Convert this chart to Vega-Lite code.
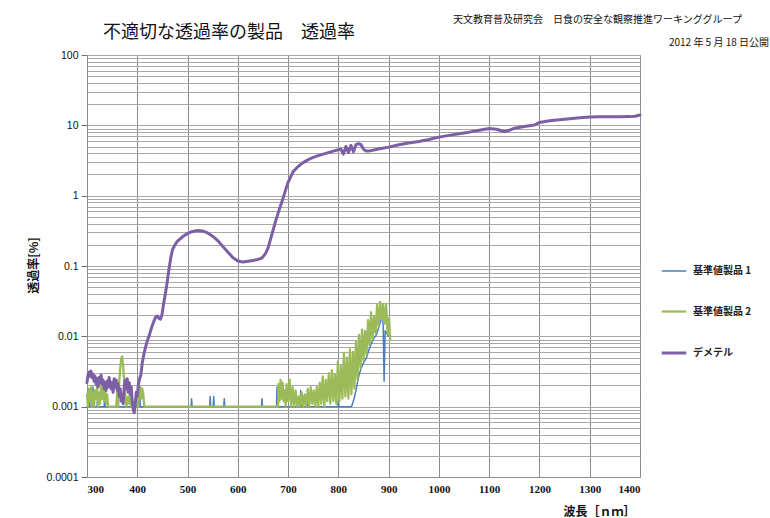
{
  "$schema": "https://vega.github.io/schema/vega-lite/v6.json",
  "width": 553,
  "height": 422,
  "autosize": {"type": "none"},
  "padding": {"left": 87, "top": 55, "right": 130, "bottom": 41},
  "background": "white",
  "title": {
    "text": "不適切な透過率の製品　透過率",
    "anchor": "start",
    "frame": "group",
    "dx": 16,
    "dy": 41,
    "offset": 14,
    "font": "Noto Sans CJK JP",
    "fontSize": 18,
    "fontWeight": "normal",
    "color": "#111"
  },
  "config": {
    "view": {"stroke": "#8c8c8c", "strokeWidth": 1},
    "axis": {"domainColor": "#8c8c8c", "tickColor": "#6f6f6f"}
  },
  "layer": [
    {
      "data": {
        "values": [
          {"s":"基準値製品 1","x":300,"y":0.001},{"s":"基準値製品 1","x":304,"y":0.001},{"s":"基準値製品 1","x":305,"y":0.0014},{"s":"基準値製品 1","x":306,"y":0.001},{"s":"基準値製品 1","x":311,"y":0.001},{"s":"基準値製品 1","x":312,"y":0.0019},{"s":"基準値製品 1","x":313,"y":0.001},{"s":"基準値製品 1","x":320,"y":0.001},{"s":"基準値製品 1","x":321,"y":0.0013},{"s":"基準値製品 1","x":322,"y":0.001},{"s":"基準値製品 1","x":334,"y":0.001},{"s":"基準値製品 1","x":335,"y":0.0013},{"s":"基準値製品 1","x":336,"y":0.001},{"s":"基準値製品 1","x":404,"y":0.001},{"s":"基準値製品 1","x":405,"y":0.0015},{"s":"基準値製品 1","x":406,"y":0.001},{"s":"基準値製品 1","x":507,"y":0.001},{"s":"基準値製品 1","x":508,"y":0.0013},{"s":"基準値製品 1","x":509,"y":0.001},{"s":"基準値製品 1","x":544,"y":0.001},{"s":"基準値製品 1","x":545,"y":0.0014},{"s":"基準値製品 1","x":546,"y":0.001},{"s":"基準値製品 1","x":551,"y":0.001},{"s":"基準値製品 1","x":552,"y":0.0014},{"s":"基準値製品 1","x":553,"y":0.001},{"s":"基準値製品 1","x":572,"y":0.001},{"s":"基準値製品 1","x":573,"y":0.0013},{"s":"基準値製品 1","x":574,"y":0.001},{"s":"基準値製品 1","x":647,"y":0.001},{"s":"基準値製品 1","x":648,"y":0.0013},{"s":"基準値製品 1","x":649,"y":0.001},{"s":"基準値製品 1","x":677,"y":0.001},{"s":"基準値製品 1","x":678,"y":0.0019},{"s":"基準値製品 1","x":679,"y":0.001},{"s":"基準値製品 1","x":724,"y":0.001},{"s":"基準値製品 1","x":725,"y":0.0017},{"s":"基準値製品 1","x":726,"y":0.001},{"s":"基準値製品 1","x":739,"y":0.001},{"s":"基準値製品 1","x":740,"y":0.0015},{"s":"基準値製品 1","x":741,"y":0.001},{"s":"基準値製品 1","x":799,"y":0.001},{"s":"基準値製品 1","x":800,"y":0.0013},{"s":"基準値製品 1","x":801,"y":0.001},{"s":"基準値製品 1","x":826,"y":0.001},{"s":"基準値製品 1","x":830,"y":0.0012},{"s":"基準値製品 1","x":835,"y":0.0017},{"s":"基準値製品 1","x":840,"y":0.0026},{"s":"基準値製品 1","x":845,"y":0.0035},{"s":"基準値製品 1","x":850,"y":0.0042},{"s":"基準値製品 1","x":856,"y":0.005},{"s":"基準値製品 1","x":861,"y":0.0065},{"s":"基準値製品 1","x":866,"y":0.008},{"s":"基準値製品 1","x":871,"y":0.0095},{"s":"基準値製品 1","x":876,"y":0.0106},{"s":"基準値製品 1","x":881,"y":0.014},{"s":"基準値製品 1","x":886,"y":0.018},{"s":"基準値製品 1","x":889,"y":0.016},{"s":"基準値製品 1","x":891,"y":0.0023},{"s":"基準値製品 1","x":893,"y":0.012},{"s":"基準値製品 1","x":896,"y":0.011},{"s":"基準値製品 1","x":900,"y":0.01},

          {"s":"基準値製品 2","x":300,"y":0.0015},{"s":"基準値製品 2","x":302,"y":0.001},{"s":"基準値製品 2","x":304,"y":0.0018},{"s":"基準値製品 2","x":306,"y":0.0012},{"s":"基準値製品 2","x":308,"y":0.0019},{"s":"基準値製品 2","x":310,"y":0.001},{"s":"基準値製品 2","x":312,"y":0.0016},{"s":"基準値製品 2","x":314,"y":0.001},{"s":"基準値製品 2","x":316,"y":0.0017},{"s":"基準値製品 2","x":318,"y":0.0013},{"s":"基準値製品 2","x":320,"y":0.0019},{"s":"基準値製品 2","x":322,"y":0.001},{"s":"基準値製品 2","x":324,"y":0.0016},{"s":"基準値製品 2","x":326,"y":0.0011},{"s":"基準値製品 2","x":328,"y":0.0021},{"s":"基準値製品 2","x":330,"y":0.0013},{"s":"基準値製品 2","x":332,"y":0.0018},{"s":"基準値製品 2","x":334,"y":0.0012},{"s":"基準値製品 2","x":336,"y":0.0019},{"s":"基準値製品 2","x":338,"y":0.0011},{"s":"基準値製品 2","x":340,"y":0.0015},{"s":"基準値製品 2","x":342,"y":0.001},{"s":"基準値製品 2","x":358,"y":0.001},{"s":"基準値製品 2","x":360,"y":0.0016},{"s":"基準値製品 2","x":362,"y":0.001},{"s":"基準値製品 2","x":364,"y":0.0022},{"s":"基準値製品 2","x":366,"y":0.0035},{"s":"基準値製品 2","x":368,"y":0.0048},{"s":"基準値製品 2","x":370,"y":0.0052},{"s":"基準値製品 2","x":372,"y":0.0036},{"s":"基準値製品 2","x":374,"y":0.0023},{"s":"基準値製品 2","x":376,"y":0.0016},{"s":"基準値製品 2","x":378,"y":0.001},{"s":"基準値製品 2","x":382,"y":0.0014},{"s":"基準値製品 2","x":384,"y":0.0011},{"s":"基準値製品 2","x":386,"y":0.0016},{"s":"基準値製品 2","x":388,"y":0.001},{"s":"基準値製品 2","x":398,"y":0.001},{"s":"基準値製品 2","x":400,"y":0.0013},{"s":"基準値製品 2","x":402,"y":0.001},{"s":"基準値製品 2","x":404,"y":0.0017},{"s":"基準値製品 2","x":406,"y":0.0019},{"s":"基準値製品 2","x":408,"y":0.0013},{"s":"基準値製品 2","x":410,"y":0.0018},{"s":"基準値製品 2","x":412,"y":0.0015},{"s":"基準値製品 2","x":414,"y":0.001},{"s":"基準値製品 2","x":680,"y":0.001},{"s":"基準値製品 2","x":681,"y":0.0021},{"s":"基準値製品 2","x":683,"y":0.0012},{"s":"基準値製品 2","x":685,"y":0.0024},{"s":"基準値製品 2","x":687,"y":0.0013},{"s":"基準値製品 2","x":689,"y":0.0022},{"s":"基準値製品 2","x":691,"y":0.0012},{"s":"基準値製品 2","x":693,"y":0.0017},{"s":"基準値製品 2","x":695,"y":0.001},{"s":"基準値製品 2","x":697,"y":0.0021},{"s":"基準値製品 2","x":700,"y":0.0012},{"s":"基準値製品 2","x":703,"y":0.0024},{"s":"基準値製品 2","x":706,"y":0.001},{"s":"基準値製品 2","x":709,"y":0.0019},{"s":"基準値製品 2","x":712,"y":0.001},{"s":"基準値製品 2","x":715,"y":0.0017},{"s":"基準値製品 2","x":718,"y":0.001},{"s":"基準値製品 2","x":721,"y":0.0014},{"s":"基準値製品 2","x":724,"y":0.001},{"s":"基準値製品 2","x":727,"y":0.0016},{"s":"基準値製品 2","x":730,"y":0.001},{"s":"基準値製品 2","x":733,"y":0.0015},{"s":"基準値製品 2","x":736,"y":0.001},{"s":"基準値製品 2","x":739,"y":0.0018},{"s":"基準値製品 2","x":742,"y":0.001},{"s":"基準値製品 2","x":745,"y":0.0019},{"s":"基準値製品 2","x":748,"y":0.0011},{"s":"基準値製品 2","x":751,"y":0.0017},{"s":"基準値製品 2","x":754,"y":0.001},{"s":"基準値製品 2","x":757,"y":0.0019},{"s":"基準値製品 2","x":760,"y":0.001},{"s":"基準値製品 2","x":763,"y":0.0022},{"s":"基準値製品 2","x":766,"y":0.0011},{"s":"基準値製品 2","x":769,"y":0.0027},{"s":"基準値製品 2","x":772,"y":0.001},{"s":"基準値製品 2","x":775,"y":0.0024},{"s":"基準値製品 2","x":778,"y":0.0012},{"s":"基準値製品 2","x":781,"y":0.003},{"s":"基準値製品 2","x":784,"y":0.0011},{"s":"基準値製品 2","x":787,"y":0.0033},{"s":"基準値製品 2","x":790,"y":0.0012},{"s":"基準値製品 2","x":793,"y":0.0029},{"s":"基準値製品 2","x":796,"y":0.0011},{"s":"基準値製品 2","x":799,"y":0.0044},{"s":"基準値製品 2","x":802,"y":0.0012},{"s":"基準値製品 2","x":805,"y":0.0038},{"s":"基準値製品 2","x":808,"y":0.0013},{"s":"基準値製品 2","x":811,"y":0.0058},{"s":"基準値製品 2","x":814,"y":0.0014},{"s":"基準値製品 2","x":817,"y":0.005},{"s":"基準値製品 2","x":820,"y":0.0013},{"s":"基準値製品 2","x":823,"y":0.0065},{"s":"基準値製品 2","x":826,"y":0.0015},{"s":"基準値製品 2","x":829,"y":0.006},{"s":"基準値製品 2","x":832,"y":0.0018},{"s":"基準値製品 2","x":835,"y":0.0085},{"s":"基準値製品 2","x":838,"y":0.0024},{"s":"基準値製品 2","x":841,"y":0.0105},{"s":"基準値製品 2","x":844,"y":0.0035},{"s":"基準値製品 2","x":847,"y":0.0125},{"s":"基準値製品 2","x":850,"y":0.0045},{"s":"基準値製品 2","x":853,"y":0.012},{"s":"基準値製品 2","x":856,"y":0.0055},{"s":"基準値製品 2","x":859,"y":0.017},{"s":"基準値製品 2","x":862,"y":0.0075},{"s":"基準値製品 2","x":865,"y":0.022},{"s":"基準値製品 2","x":868,"y":0.009},{"s":"基準値製品 2","x":871,"y":0.019},{"s":"基準値製品 2","x":874,"y":0.011},{"s":"基準値製品 2","x":877,"y":0.028},{"s":"基準値製品 2","x":880,"y":0.014},{"s":"基準値製品 2","x":883,"y":0.031},{"s":"基準値製品 2","x":886,"y":0.017},{"s":"基準値製品 2","x":889,"y":0.029},{"s":"基準値製品 2","x":892,"y":0.015},{"s":"基準値製品 2","x":895,"y":0.029},{"s":"基準値製品 2","x":898,"y":0.011},{"s":"基準値製品 2","x":901,"y":0.018},{"s":"基準値製品 2","x":903,"y":0.009},

          {"s":"デメテル","x":300,"y":0.0022},{"s":"デメテル","x":302,"y":0.0028},{"s":"デメテル","x":304,"y":0.0031},{"s":"デメテル","x":306,"y":0.0027},{"s":"デメテル","x":308,"y":0.0032},{"s":"デメテル","x":310,"y":0.0026},{"s":"デメテル","x":312,"y":0.0029},{"s":"デメテル","x":314,"y":0.0023},{"s":"デメテル","x":316,"y":0.0027},{"s":"デメテル","x":318,"y":0.0021},{"s":"デメテル","x":320,"y":0.0025},{"s":"デメテル","x":322,"y":0.0019},{"s":"デメテル","x":324,"y":0.0026},{"s":"デメテル","x":326,"y":0.0022},{"s":"デメテル","x":328,"y":0.0028},{"s":"デメテル","x":330,"y":0.0021},{"s":"デメテル","x":332,"y":0.0024},{"s":"デメテル","x":334,"y":0.0018},{"s":"デメテル","x":336,"y":0.0022},{"s":"デメテル","x":338,"y":0.0017},{"s":"デメテル","x":340,"y":0.0023},{"s":"デメテル","x":342,"y":0.0019},{"s":"デメテル","x":344,"y":0.0026},{"s":"デメテル","x":346,"y":0.0021},{"s":"デメテル","x":348,"y":0.0018},{"s":"デメテル","x":350,"y":0.0022},{"s":"デメテル","x":352,"y":0.0016},{"s":"デメテル","x":354,"y":0.0025},{"s":"デメテル","x":356,"y":0.0019},{"s":"デメテル","x":358,"y":0.0024},{"s":"デメテル","x":360,"y":0.0017},{"s":"デメテル","x":362,"y":0.0021},{"s":"デメテル","x":364,"y":0.0014},{"s":"デメテル","x":366,"y":0.0018},{"s":"デメテル","x":368,"y":0.0012},{"s":"デメテル","x":370,"y":0.0015},{"s":"デメテル","x":372,"y":0.0011},{"s":"デメテル","x":374,"y":0.0019},{"s":"デメテル","x":376,"y":0.0024},{"s":"デメテル","x":378,"y":0.0018},{"s":"デメテル","x":380,"y":0.0025},{"s":"デメテル","x":382,"y":0.0016},{"s":"デメテル","x":384,"y":0.0022},{"s":"デメテル","x":386,"y":0.0015},{"s":"デメテル","x":388,"y":0.0019},{"s":"デメテル","x":390,"y":0.0012},{"s":"デメテル","x":392,"y":0.0009},{"s":"デメテル","x":394,"y":0.00082},{"s":"デメテル","x":396,"y":0.0011},{"s":"デメテル","x":398,"y":0.0016},{"s":"デメテル","x":400,"y":0.0014},{"s":"デメテル","x":402,"y":0.002},{"s":"デメテル","x":404,"y":0.0024},{"s":"デメテル","x":407,"y":0.0028},{"s":"デメテル","x":410,"y":0.0042},{"s":"デメテル","x":413,"y":0.0055},{"s":"デメテル","x":416,"y":0.0068},{"s":"デメテル","x":419,"y":0.0082},{"s":"デメテル","x":422,"y":0.0095},{"s":"デメテル","x":425,"y":0.011},{"s":"デメテル","x":428,"y":0.013},{"s":"デメテル","x":431,"y":0.015},{"s":"デメテル","x":434,"y":0.017},{"s":"デメテル","x":437,"y":0.019},{"s":"デメテル","x":440,"y":0.0195},{"s":"デメテル","x":443,"y":0.018},{"s":"デメテル","x":446,"y":0.0175},{"s":"デメテル","x":449,"y":0.02},{"s":"デメテル","x":452,"y":0.028},{"s":"デメテル","x":455,"y":0.037},{"s":"デメテル","x":458,"y":0.05},{"s":"デメテル","x":461,"y":0.07},{"s":"デメテル","x":464,"y":0.1},{"s":"デメテル","x":467,"y":0.135},{"s":"デメテル","x":470,"y":0.17},{"s":"デメテル","x":475,"y":0.2},{"s":"デメテル","x":480,"y":0.225},{"s":"デメテル","x":490,"y":0.26},{"s":"デメテル","x":500,"y":0.29},{"s":"デメテル","x":510,"y":0.31},{"s":"デメテル","x":520,"y":0.32},{"s":"デメテル","x":530,"y":0.315},{"s":"デメテル","x":540,"y":0.295},{"s":"デメテル","x":550,"y":0.265},{"s":"デメテル","x":560,"y":0.23},{"s":"デメテル","x":570,"y":0.19},{"s":"デメテル","x":580,"y":0.158},{"s":"デメテル","x":590,"y":0.132},{"s":"デメテル","x":600,"y":0.118},{"s":"デメテル","x":610,"y":0.114},{"s":"デメテル","x":620,"y":0.117},{"s":"デメテル","x":630,"y":0.12},{"s":"デメテル","x":640,"y":0.124},{"s":"デメテル","x":648,"y":0.13},{"s":"デメテル","x":655,"y":0.15},{"s":"デメテル","x":660,"y":0.18},{"s":"デメテル","x":665,"y":0.24},{"s":"デメテル","x":670,"y":0.32},{"s":"デメテル","x":675,"y":0.43},{"s":"デメテル","x":680,"y":0.56},{"s":"デメテル","x":685,"y":0.72},{"s":"デメテル","x":690,"y":0.92},{"s":"デメテル","x":695,"y":1.2},{"s":"デメテル","x":700,"y":1.55},{"s":"デメテル","x":710,"y":2.2},{"s":"デメテル","x":720,"y":2.6},{"s":"デメテル","x":730,"y":2.95},{"s":"デメテル","x":740,"y":3.25},{"s":"デメテル","x":750,"y":3.5},{"s":"デメテル","x":760,"y":3.7},{"s":"デメテル","x":770,"y":3.9},{"s":"デメテル","x":780,"y":4.1},{"s":"デメテル","x":790,"y":4.3},{"s":"デメテル","x":800,"y":4.5},{"s":"デメテル","x":805,"y":4.6},{"s":"デメテル","x":810,"y":3.9},{"s":"デメテル","x":815,"y":5.0},{"s":"デメテル","x":820,"y":4.1},{"s":"デメテル","x":825,"y":5.2},{"s":"デメテル","x":830,"y":4.2},{"s":"デメテル","x":835,"y":5.3},{"s":"デメテル","x":840,"y":5.5},{"s":"デメテル","x":845,"y":5.3},{"s":"デメテル","x":850,"y":4.6},{"s":"デメテル","x":855,"y":4.3},{"s":"デメテル","x":860,"y":4.3},{"s":"デメテル","x":880,"y":4.6},{"s":"デメテル","x":900,"y":4.9},{"s":"デメテル","x":920,"y":5.3},{"s":"デメテル","x":940,"y":5.6},{"s":"デメテル","x":960,"y":5.9},{"s":"デメテル","x":980,"y":6.3},{"s":"デメテル","x":1000,"y":6.8},{"s":"デメテル","x":1020,"y":7.2},{"s":"デメテル","x":1040,"y":7.6},{"s":"デメテル","x":1060,"y":8.0},{"s":"デメテル","x":1080,"y":8.5},{"s":"デメテル","x":1100,"y":9.0},{"s":"デメテル","x":1115,"y":8.8},{"s":"デメテル","x":1130,"y":8.1},{"s":"デメテル","x":1140,"y":8.5},{"s":"デメテル","x":1150,"y":9.1},{"s":"デメテル","x":1170,"y":9.6},{"s":"デメテル","x":1190,"y":10.1},{"s":"デメテル","x":1200,"y":11.0},{"s":"デメテル","x":1220,"y":11.6},{"s":"デメテル","x":1240,"y":12.0},{"s":"デメテル","x":1260,"y":12.4},{"s":"デメテル","x":1280,"y":12.8},{"s":"デメテル","x":1300,"y":13.1},{"s":"デメテル","x":1320,"y":13.2},{"s":"デメテル","x":1340,"y":13.2},{"s":"デメテル","x":1360,"y":13.2},{"s":"デメテル","x":1380,"y":13.3},{"s":"デメテル","x":1390,"y":13.5},{"s":"デメテル","x":1400,"y":14}
        ]
      },
      "mark": {"type": "line", "strokeJoin": "round", "strokeCap": "round"},
      "encoding": {
        "x": {
          "field": "x",
          "type": "quantitative",
          "scale": {"domain": [300, 1400], "nice": false, "zero": false},
          "axis": {
            "values": [300, 400, 500, 600, 700, 800, 900, 1000, 1100, 1200, 1300, 1400],
            "format": "d",
            "grid": true,
            "gridColor": "#8c8c8c",
            "gridWidth": 1,
            "ticks": false,
            "labelPadding": 6,
            "labelFont": "Liberation Sans Narrow",
            "labelFontSize": 11,
            "labelFontWeight": "bold",
            "labelColor": "#111",
            "title": "波長［ｎｍ］",
            "titleFont": "Noto Sans CJK JP",
            "titleFontSize": 12,
            "titleFontWeight": "bold",
            "titleColor": "#111",
            "titleX": 512,
            "titleY": 34,
            "titleAlign": "center",
            "titleBaseline": "middle"
          }
        },
        "y": {
          "field": "y",
          "type": "quantitative",
          "scale": {"type": "log", "domain": [0.0001, 100], "nice": false},
          "axis": {
            "values": [0.0001,0.0002,0.0003,0.0004,0.0005,0.0006,0.0007,0.0008,0.0009,0.001,0.002,0.003,0.004,0.005,0.006,0.007,0.008,0.009,0.01,0.02,0.03,0.04,0.05,0.06,0.07,0.08,0.09,0.1,0.2,0.3,0.4,0.5,0.6,0.7,0.8,0.9,1,2,3,4,5,6,7,8,9,10,20,30,40,50,60,70,80,90,100],
            "format": "~g",
            "labelExpr": "abs(log(datum.value)/LN10 - round(log(datum.value)/LN10)) < 1e-6 ? datum.label : ''",
            "grid": true,
            "gridColor": "#a8a8a8",
            "gridWidth": 1,
            "tickSize": 6,
            "tickOpacity": {"condition": {"test": "abs(log(datum.value)/LN10 - round(log(datum.value)/LN10)) < 1e-6", "value": 1}, "value": 0},
            "labelPadding": 3,
            "labelFont": "Liberation Sans",
            "labelFontSize": 10.5,
            "labelColor": "#111",
            "title": "透過率[%]",
            "titleFont": "Noto Sans CJK JP",
            "titleFontSize": 12,
            "titleFontWeight": "bold",
            "titleColor": "#111",
            "titleX": -54,
            "titleY": 210,
            "titleAlign": "center",
            "titleBaseline": "middle",
            "titleAngle": -90
          }
        },
        "color": {
          "field": "s",
          "type": "nominal",
          "scale": {"domain": ["基準値製品 1", "基準値製品 2", "デメテル"], "range": ["#4a7ebb", "#9bbb59", "#7d5fa6"]},
          "legend": {
            "title": null,
            "orient": "none",
            "legendX": 573,
            "legendY": 203,
            "symbolType": "stroke",
            "symbolSize": 600,
            "rowPadding": 22,
            "labelOffset": 5,
            "labelFont": "Noto Sans CJK JP",
            "labelFontSize": 10,
            "labelFontWeight": "bold",
            "labelColor": "#222"
          }
        },
        "strokeWidth": {
          "field": "s",
          "type": "nominal",
          "scale": {"domain": ["基準値製品 1", "基準値製品 2", "デメテル"], "range": [1.5, 3, 4]},
          "legend": null
        }
      }
    },
    {
      "data": {"values": [{"label": "天文教育普及研究会　日食の安全な観察推進ワーキンググループ"}]},
      "mark": {"type": "text", "align": "right", "baseline": "middle", "dx": 102, "dy": -35, "font": "Noto Sans CJK JP", "fontSize": 10, "color": "#111"},
      "encoding": {
        "x": {"datum": 1400, "type": "quantitative"},
        "y": {"datum": 100, "type": "quantitative"},
        "text": {"field": "label"}
      }
    },
    {
      "data": {"values": [{"label": "2012 年 5 月 18 日公開"}]},
      "mark": {"type": "text", "align": "right", "baseline": "middle", "dx": 129, "dy": -12, "font": "Noto Sans CJK JP", "fontSize": 10, "color": "#111"},
      "encoding": {
        "x": {"datum": 1400, "type": "quantitative"},
        "y": {"datum": 100, "type": "quantitative"},
        "text": {"field": "label"}
      }
    }
  ]
}
